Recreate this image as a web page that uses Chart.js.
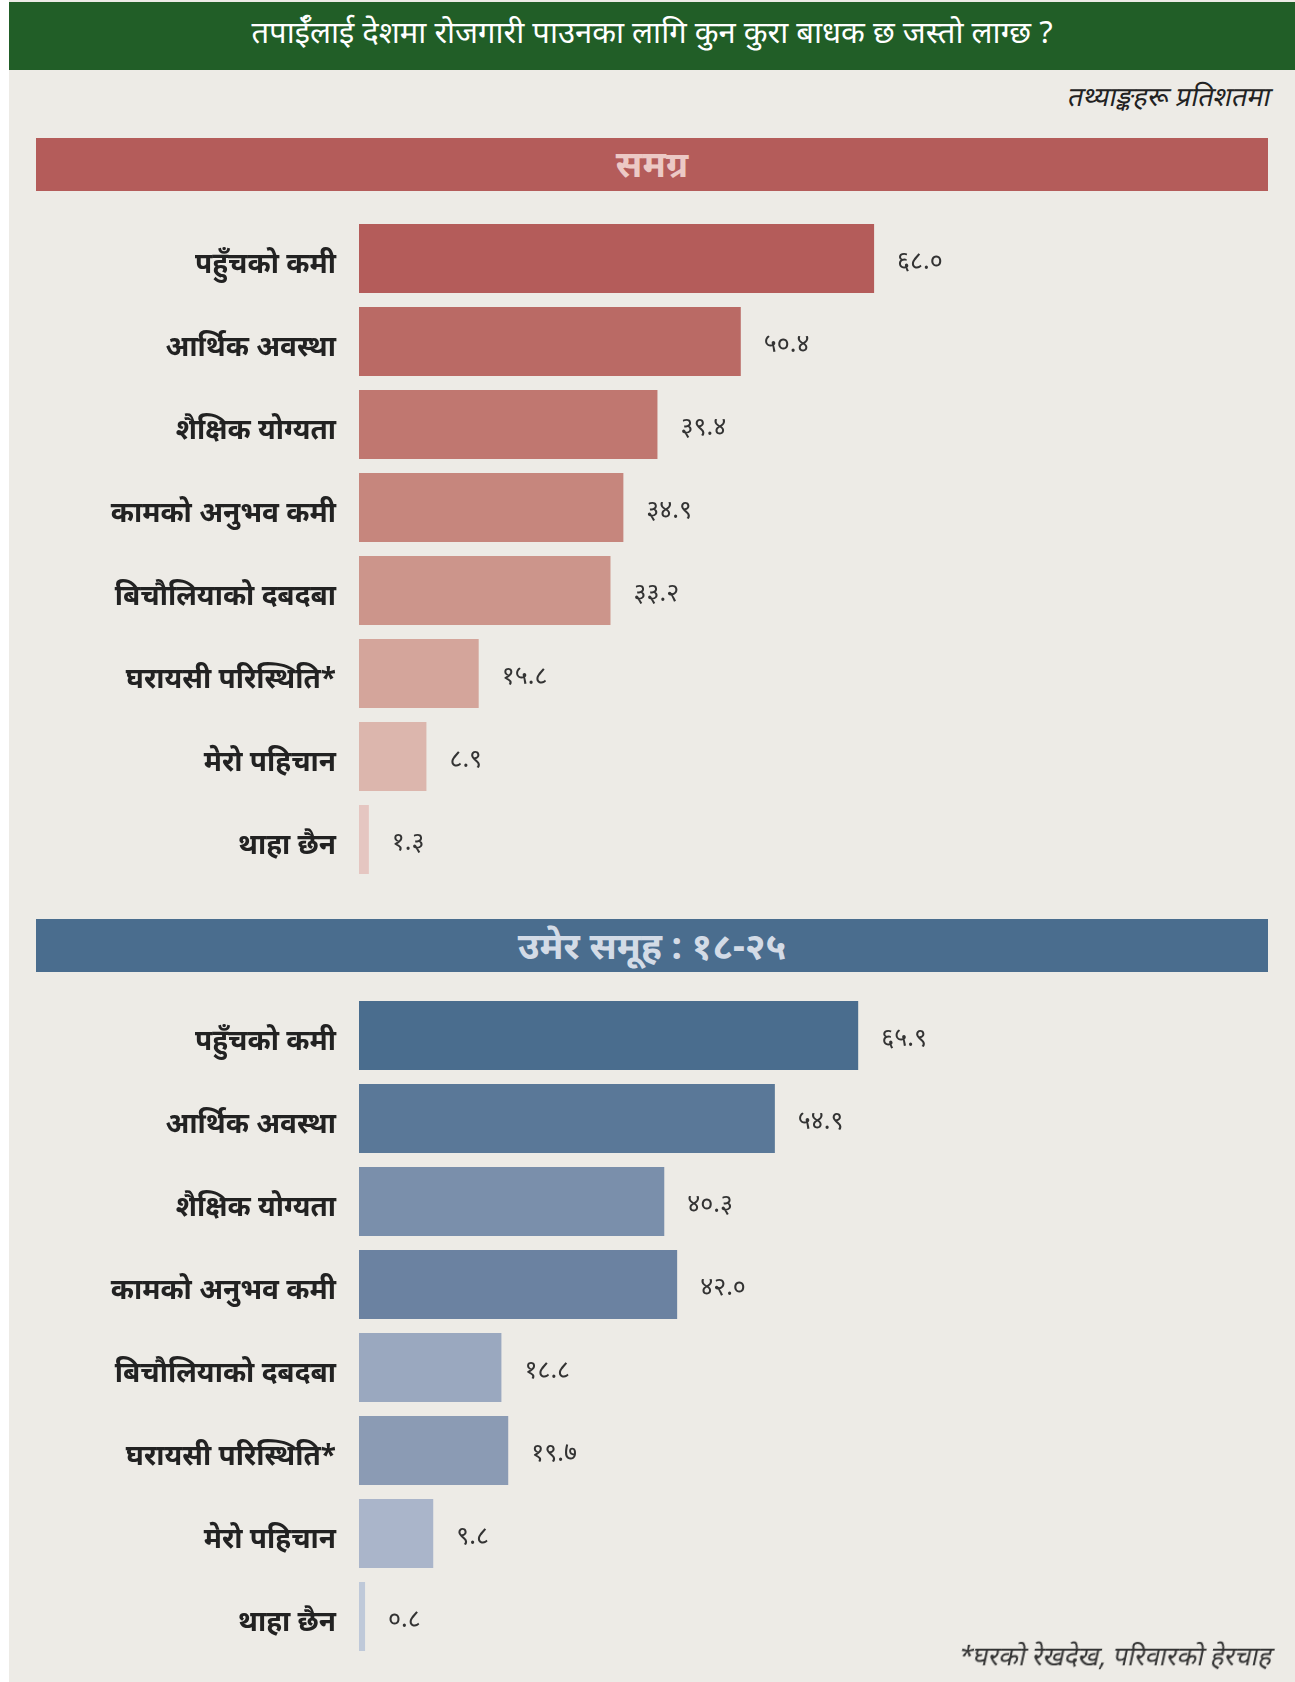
<!DOCTYPE html>
<html>
<head>
<meta charset="utf-8">
<script src="https://cdn.jsdelivr.net/npm/chart.js"></script>
<style>
  body { margin: 0; background: #ffffff; font-family: "Noto Sans", sans-serif; }
  #page { position: relative; width: 1295px; height: 1682px; overflow: hidden; }
  .bg { position: absolute; left: 9px; top: 0; width: 1286px; height: 1682px; background: #edebe6; }
  .title { position: absolute; left: 9px; top: 2px; width: 1286px; height: 68px; background: #215e27;
    color: #ffffff; font-size: 31px; line-height: 58px; text-align: center; }
  .unit { position: absolute; right: 27px; top: 77px; font-size: 27px; color: #222;
    transform: skewX(-12deg); transform-origin: right bottom; }
  .section { position: absolute; left: 36px; width: 1232px; height: 53px; text-align: center;
    font-size: 36px; font-weight: bold; line-height: 52px; }
  .red { top: 138px; background: #b45c5a; color: #ecc9c5; }
  .blue { top: 919px; background: #4a6d8e; color: #d3dbe6; font-size: 37px; }
  .wrap { position: absolute; left: 0; width: 1295px; height: 664px; }
  .note { position: absolute; right: 26px; top: 1637px; font-size: 26px; color: #333;
    transform: skewX(-12deg); transform-origin: right bottom; }
</style>
</head>
<body>
<div id="page">
  <div class="bg"></div>
  <div class="title">तपाईँलाई देशमा रोजगारी पाउनका लागि कुन कुरा बाधक छ जस्तो लाग्छ ?</div>
  <div class="unit">तथ्याङ्कहरू प्रतिशतमा</div>
  <div class="section red">समग्र</div>
  <div class="wrap" style="top:217px"><canvas id="overallChart"></canvas></div>
  <div class="section blue">उमेर समूह : १८-२५</div>
  <div class="wrap" style="top:994px"><canvas id="youthChart"></canvas></div>
  <div class="note">*घरको रेखदेख, परिवारको हेरचाह</div>
</div>
<script>
const categories = [
  "पहुँचको कमी",
  "आर्थिक अवस्था",
  "शैक्षिक योग्यता",
  "कामको अनुभव कमी",
  "बिचौलियाको दबदबा",
  "घरायसी परिस्थिति*",
  "मेरो पहिचान",
  "थाहा छैन",
];
const overallValues = [68.0, 50.4, 39.4, 34.9, 33.2, 15.8, 8.9, 1.3];
const youthValues = [65.9, 54.9, 40.3, 42.0, 18.8, 19.7, 9.8, 0.8];

const overallColors = ["#b45c5a", "#ba6a65", "#c07770", "#c6867d", "#cc958b", "#d4a59b", "#dcb6ad", "#e5c6c1"];
const youthColors = ["#4a6d8e", "#5a7898", "#7a8fab", "#6b82a1", "#9aa8bf", "#8b9bb4", "#aab5ca", "#bfc9d9"];

// Nepali digits for the value labels
function toNepali(v) {
  return v.toFixed(1).replace(/[0-9]/g, (d) => String.fromCharCode(0x0966 + Number(d)));
}

const valueLabels = {
  id: "valueLabels",
  afterDatasetsDraw(chart) {
    const ctx = chart.ctx;
    const meta = chart.getDatasetMeta(0);
    ctx.save();
    ctx.font = '25px "Noto Sans", sans-serif';
    ctx.fillStyle = "#333333";
    ctx.textAlign = "left";
    ctx.textBaseline = "middle";
    meta.data.forEach((bar, i) => {
      ctx.fillText(toNepali(chart.data.datasets[0].data[i]), bar.x + 23, bar.y + 3);
    });
    ctx.restore();
  },
};

function makeChart(id, values, colors) {
  const ctx = document.getElementById(id).getContext("2d");
  return new Chart(ctx, {
    type: "bar",
    data: {
      labels: categories,
      datasets: [
        {
          data: values,
          backgroundColor: colors,
          barPercentage: 1,
          categoryPercentage: 69 / 83,
        },
      ],
    },
    options: {
      indexAxis: "y",
      responsive: true,
      maintainAspectRatio: false,
      animation: false,
      layout: { padding: { left: 0, right: 27, top: 0, bottom: 0 } },
      plugins: { legend: { display: false }, tooltip: { enabled: false } },
      scales: {
        x: { display: false, min: 0, max: 120 },
        y: {
          grid: { display: false, drawTicks: false },
          border: { display: false },
          ticks: {
            padding: 23,
            labelOffset: 7,
            color: "#222222",
            font: { family: '"Noto Sans", sans-serif', size: 28, weight: "bold" },
          },
          afterFit(scale) {
            scale.width = 359;
            scale.paddingTop = 0;
            scale.paddingBottom = 0;
          },
        },
      },
    },
    plugins: [valueLabels],
  });
}

makeChart("overallChart", overallValues, overallColors);
makeChart("youthChart", youthValues, youthColors);
</script>
</body>
</html>
